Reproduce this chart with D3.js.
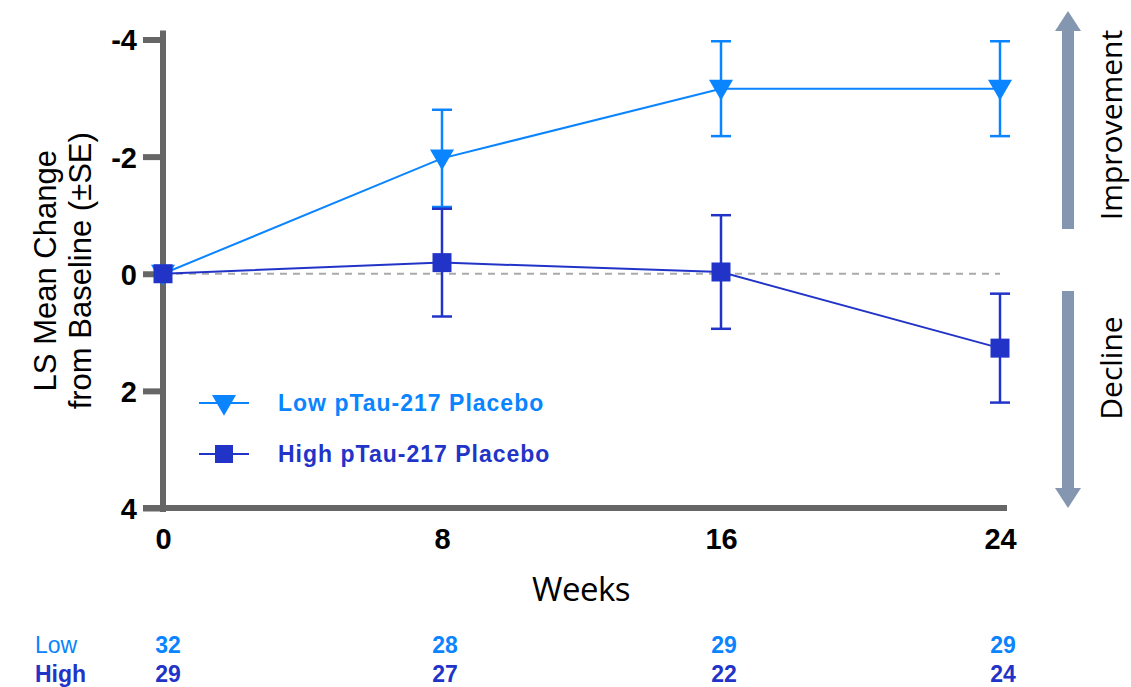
<!DOCTYPE html>
<html>
<head>
<meta charset="utf-8">
<script src="https://cdn.jsdelivr.net/npm/d3@7"></script>
<style>
  html, body { margin: 0; padding: 0; background: #fff; }
  svg { display: block; }
</style>
</head>
<body>
<svg id="chart" width="1131" height="687"></svg>
<script>
// Visit weeks and y tick values
const weeks = [0, 8, 16, 24];
const yTicks = [-4, -2, 0, 2, 4];

// LS mean change from baseline and standard errors
const lowMean = [0, -1.97, -3.16, -3.16];
const lowSE = [0, 0.83, 0.81, 0.81];
const highMean = [0, -0.19, -0.03, 1.27];
const highSE = [0, 0.92, 0.97, 0.93];

// Participants at each visit
const lowN = [32, 28, 29, 29];
const highN = [29, 27, 22, 24];

const seriesNames = ["Low pTau-217 Placebo", "High pTau-217 Placebo"];
const rowLabels = ["Low", "High"];

const LOW = "#0a84ff";
const HIGH = "#2234c8";
const AXIS = "#666666";
const ARROW = "#8597b0";

const svg = d3.select("#chart");

const x = d3.scaleLinear().domain([0, 24]).range([163, 1000]);
const y = d3.scaleLinear().domain([-4, 4]).range([39.5, 508]);

// Zero reference line
svg.append("line")
  .attr("x1", x(0)).attr("x2", x(24))
  .attr("y1", y(0)).attr("y2", y(0))
  .attr("stroke", "#aaaaaa").attr("stroke-width", 2)
  .attr("stroke-dasharray", "7,6");

// Axes
const yAxis = d3.axisLeft(y).tickValues(yTicks).tickSize(20).tickPadding(6)
  .tickFormat(d => String(d));
const gy = svg.append("g").attr("transform", `translate(${x(0)},0)`).call(yAxis);
gy.select(".domain").attr("d", `M0,${y(-4) - 9}V${y(4) + 4}`);

const xAxis = d3.axisBottom(x).tickValues(weeks).tickSize(0).tickPadding(20);
const gx = svg.append("g").attr("transform", `translate(0,${y(4)})`).call(xAxis);
gx.select(".domain").attr("d", `M${x(0) - 20},0H${x(24) + 7}`);

[gy, gx].forEach(g => {
  g.select(".domain").attr("stroke", AXIS).attr("stroke-width", 6).attr("fill", "none");
  g.selectAll(".tick line").attr("stroke", AXIS).attr("stroke-width", 6);
  g.selectAll(".tick text")
    .attr("fill", "#000")
    .style("font-family", "'Liberation Sans', Arial, sans-serif")
    .style("font-weight", "bold")
    .style("font-size", "29px");
});
gy.selectAll(".tick text").attr("dy", "0.36em");
gx.selectAll(".tick text").attr("dy", "0.71em");

// Axis titles
const yTitleLines = ["LS Mean Change", "from Baseline (±SE)"];
yTitleLines.forEach((t, i) => {
  svg.append("text")
    .attr("transform", `translate(${45 + i * 35},${y(0) - 3}) rotate(-90)`)
    .attr("text-anchor", "middle").attr("dy", "0.36em")
    .style("font-family", "'Liberation Sans', Arial, sans-serif")
    .style("font-size", "31px")
    .attr("fill", "#000")
    .text(t);
});

svg.append("text")
  .attr("x", 581).attr("y", 601)
  .attr("text-anchor", "middle")
  .style("font-family", "'Open Sans', 'DejaVu Sans', sans-serif")
  .style("font-size", "33px")
  .style("letter-spacing", "-0.5px")
  .attr("fill", "#000")
  .text("Weeks");

// Series drawing
const line = d3.line().x(d => x(d[0])).y(d => y(d[1]));
const tri = d3.symbol().type(d3.symbolTriangle).size(250);

function drawSeries(means, ses, color, marker) {
  const pts = weeks.map((w, i) => [w, means[i], ses[i]]);
  const g = svg.append("g");
  g.append("path").datum(pts).attr("d", line)
    .attr("fill", "none").attr("stroke", color).attr("stroke-width", 2);
  const eb = g.selectAll(".eb").data(pts.filter(p => p[2] > 0)).join("g");
  eb.append("line")
    .attr("x1", d => x(d[0])).attr("x2", d => x(d[0]))
    .attr("y1", d => y(d[1] - d[2])).attr("y2", d => y(d[1] + d[2]))
    .attr("stroke", color).attr("stroke-width", 2.5);
  [-1, 1].forEach(s => {
    eb.append("line")
      .attr("x1", d => x(d[0]) - 10).attr("x2", d => x(d[0]) + 10)
      .attr("y1", d => y(d[1] + s * d[2])).attr("y2", d => y(d[1] + s * d[2]))
      .attr("stroke", color).attr("stroke-width", 2.5);
  });
  if (marker === "tri") {
    g.selectAll(".m").data(pts).join("path")
      .attr("d", tri)
      .attr("transform", d => `translate(${x(d[0])},${y(d[1]) - 2}) rotate(180)`)
      .attr("fill", color);
  } else {
    g.selectAll(".m").data(pts).join("rect")
      .attr("x", d => x(d[0]) - 9.5).attr("y", d => y(d[1]) - 9.5)
      .attr("width", 19).attr("height", 19)
      .attr("fill", color);
  }
}

drawSeries(lowMean, lowSE, LOW, "tri");
drawSeries(highMean, highSE, HIGH, "sq");

// Legend
const legend = [
  { name: seriesNames[0], color: LOW, marker: "tri", cy: 403 },
  { name: seriesNames[1], color: HIGH, marker: "sq", cy: 454 }
];
legend.forEach(l => {
  svg.append("line").attr("x1", 199).attr("x2", 249).attr("y1", l.cy).attr("y2", l.cy)
    .attr("stroke", l.color).attr("stroke-width", 2);
  if (l.marker === "tri") {
    svg.append("path").attr("d", tri)
      .attr("transform", `translate(224,${l.cy - 1}) rotate(180)`).attr("fill", l.color);
  } else {
    svg.append("rect").attr("x", 215).attr("y", l.cy - 9).attr("width", 18).attr("height", 18)
      .attr("fill", l.color);
  }
  svg.append("text").attr("x", 278).attr("y", l.cy).attr("dy", "0.36em")
    .style("font-family", "'Liberation Sans', Arial, sans-serif")
    .style("font-weight", "bold").style("font-size", "23px")
    .style("letter-spacing", "1px")
    .attr("fill", l.color).text(l.name);
});

// Direction arrows
function arrow(yFrom, yTo) {
  const dir = Math.sign(yTo - yFrom);
  const headLen = 20, shaft = 12, head = 26, cx = 1068;
  svg.append("rect")
    .attr("x", cx - shaft / 2)
    .attr("y", Math.min(yFrom, yTo - dir * headLen))
    .attr("width", shaft)
    .attr("height", Math.abs(yTo - dir * headLen - yFrom))
    .attr("fill", ARROW);
  svg.append("path")
    .attr("d", `M${cx - head / 2},${yTo - dir * headLen}L${cx + head / 2},${yTo - dir * headLen}L${cx},${yTo}Z`)
    .attr("fill", ARROW);
}
arrow(229, 11);
arrow(291, 508);

const sideFont = "'Open Sans', 'DejaVu Sans', sans-serif";
[["Improvement", 125], ["Decline", 368]].forEach(([t, cy]) => {
  svg.append("text")
    .attr("transform", `translate(1111,${cy}) rotate(-90)`)
    .attr("text-anchor", "middle").attr("dy", "0.36em")
    .style("font-family", sideFont).style("font-size", "30px")
    .attr("fill", "#000").text(t);
});

// Participants table
[[rowLabels[0], lowN, LOW, 645], [rowLabels[1], highN, HIGH, 674]].forEach(([lab, ns, color, yy]) => {
  svg.append("text").attr("x", 35).attr("y", yy).attr("dy", "0.36em")
    .style("font-family", "'Liberation Sans', Arial, sans-serif")
    .style("font-weight", lab === "High" ? "bold" : "normal")
    .style("font-size", "23px").attr("fill", color).text(lab);
  svg.selectAll(null).data(ns).join("text")
    .attr("x", (d, i) => x(weeks[i]) + (i === 0 ? 5 : 3))
    .attr("y", yy).attr("dy", "0.36em")
    .attr("text-anchor", "middle")
    .style("font-family", "'Liberation Sans', Arial, sans-serif")
    .style("font-weight", "bold").style("font-size", "23px")
    .attr("fill", color).text(d => d);
});
</script>
</body>
</html>
